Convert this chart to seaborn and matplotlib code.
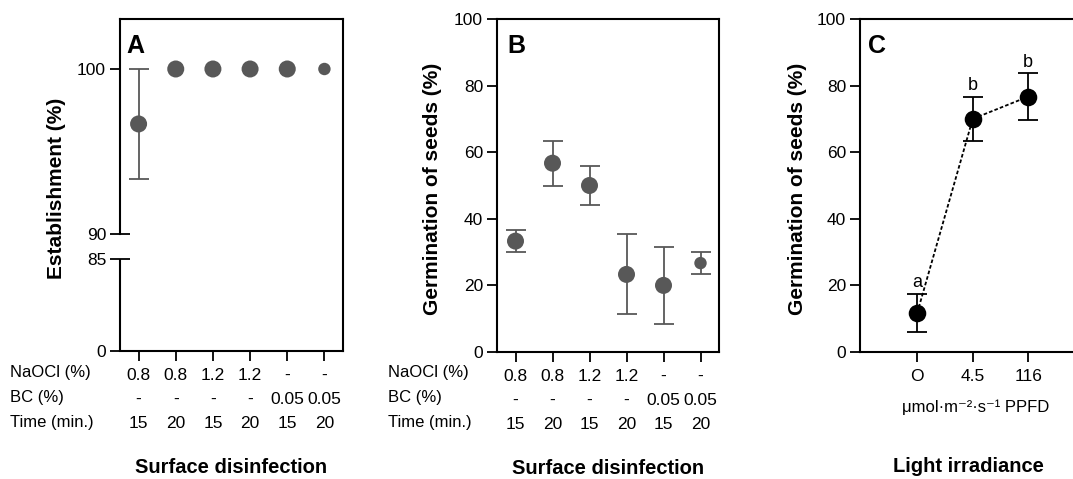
import numpy as np
import pandas as pd
import matplotlib
matplotlib.use("Agg")
import matplotlib.pyplot as plt
import seaborn as sns

# ---------------- data ----------------
naocl = ["0.8", "0.8", "1.2", "1.2", "-", "-"]
bc = ["-", "-", "-", "-", "0.05", "0.05"]
time_min = ["15", "20", "15", "20", "15", "20"]
row_headers = ["NaOCl (%)", "BC (%)", "Time (min.)"]

est_mean = [96.67, 100, 100, 100, 100, 100]
est_err = [3.33, 0, 0, 0, 0, 0]

germ_mean = [33.3, 56.7, 50.0, 23.3, 20.0, 26.7]
germ_err = [3.3, 6.7, 5.8, 12.0, 11.5, 3.3]

light_labels = ["O", "4.5", "116"]
light_mean = [11.7, 70.0, 76.7]
light_err = [5.8, 6.6, 7.0]
light_letters = ["a", "b", "b"]

# ---------------- style ----------------
sns.set_theme(style="ticks")
plt.rcParams["font.family"] = ["Liberation Sans", "DejaVu Sans"]
plt.rcParams["text.color"] = "black"
plt.rcParams["axes.labelcolor"] = "black"
GRAY = "#585858"
TICK_FS = 12.5
LAB_FS = 15
LSP = 1.78

W, H = 1073, 479
fig = plt.figure(figsize=(W / 100, H / 100), dpi=100)


def box(l, t, r, b):
    return [l / W, 1 - b / H, (r - l) / W, (b - t) / H]


axA = fig.add_axes(box(120, 19, 343, 351))
axB = fig.add_axes(box(497, 19, 719, 352))
axC = fig.add_axes(box(860, 19, 1076, 352))

for ax in (axA, axB, axC):
    for sp in ax.spines.values():
        sp.set_linewidth(1.5)
        sp.set_color("black")
    ax.tick_params(axis="both", which="major", direction="out", length=7,
                   width=1.3, color="black", labelsize=TICK_FS,
                   labelcolor="black", pad=3)
    ax.tick_params(axis="x", which="major", pad=5)

table_labels = [f"{a}\n{b}\n{c}" for a, b, c in zip(naocl, bc, time_min)]
sizes_AB = [150, 150, 150, 150, 150, 80]


def treatment_panel(ax, means, errs):
    x = np.arange(len(means))
    df = pd.DataFrame({"x": x, "y": means, "e": errs})
    with_err = df[df["e"] > 0]
    ax.errorbar(with_err["x"], with_err["y"], yerr=with_err["e"], fmt="none",
                ecolor=GRAY, elinewidth=1.3, capsize=7, capthick=1.3, zorder=2)
    sns.scatterplot(data=df, x="x", y="y", ax=ax, color=GRAY, s=sizes_AB,
                    linewidth=0, zorder=3, legend=False)
    ax.set_xlim(-0.5, len(means) - 0.5)
    ax.set_xticks(x)
    ax.set_xticklabels(table_labels)
    for t in ax.get_xticklabels():
        t.set_linespacing(LSP)
    ax.set_xlabel("Surface disinfection", fontsize=14.5, fontweight="bold",
                  labelpad=19)


# ---------------- panel A ----------------
treatment_panel(axA, est_mean, est_err)
d_pts = [0, 85, 90, 103.03]
p_pts = [0, 92, 117, 332]
axA.set_yscale("function", functions=(lambda y: np.interp(y, d_pts, p_pts),
                                      lambda p: np.interp(p, p_pts, d_pts)))
axA.set_ylim(0, 103.03)
axA.set_yticks([0, 100])
axA.set_yticklabels(["0", "100"])
axA.set_yticks([85, 90], minor=True)
axA.set_yticklabels(["85", "90"], minor=True)
axA.tick_params(axis="y", which="minor", direction="inout", length=15,
                width=1.3, color="black", labelsize=TICK_FS, labelcolor="black",
                pad=2)
axA.spines["left"].set_bounds(90, 103.03)
axA.plot([0, 0], [0, 85], transform=axA.get_yaxis_transform(), color="black",
         lw=1.5, clip_on=False, solid_capstyle="butt", zorder=5)
axA.set_ylim(0, 103.03)
axA.set_ylabel("Establishment (%)", fontsize=LAB_FS, fontweight="bold")
axA.yaxis.set_label_coords(-0.24, 0.49)

# ---------------- panel B ----------------
treatment_panel(axB, germ_mean, germ_err)
axB.set_ylim(0, 100)
axB.set_yticks([0, 20, 40, 60, 80, 100])
axB.set_ylabel("Germination of seeds (%)", fontsize=LAB_FS, fontweight="bold")
axB.yaxis.set_label_coords(-0.25, 0.49)

# row headers of the treatment table
for xpix in (10, 388):
    fig.text(xpix / W, 1 - 365 / H, "\n".join(row_headers), ha="left",
             va="top", fontsize=12, linespacing=LSP * TICK_FS / 12)

# ---------------- panel C ----------------
xc = np.arange(len(light_mean))
dfC = pd.DataFrame({"x": xc, "y": light_mean})
sns.lineplot(data=dfC, x="x", y="y", ax=axC, color="black", lw=1.3,
             linestyle=(0, (2, 1.2)), zorder=2)
axC.errorbar(xc, light_mean, yerr=light_err, fmt="none", ecolor="black",
             elinewidth=1.3, capsize=7, capthick=1.3, zorder=2)
sns.scatterplot(data=dfC, x="x", y="y", ax=axC, color="black", s=160,
                linewidth=0, zorder=3, legend=False)
for xi, m, e, let in zip(xc, light_mean, light_err, light_letters):
    axC.annotate(let, (xi, m + e), xytext=(0, 2), textcoords="offset points",
                 ha="center", va="bottom", fontsize=13)
axC.set_xlim(-1.03, 2.86)
axC.set_ylim(0, 100)
axC.set_yticks([0, 20, 40, 60, 80, 100])
axC.set_xticks(xc)
axC.set_xticklabels(light_labels)
axC.set_ylabel("Germination of seeds (%)", fontsize=LAB_FS, fontweight="bold")
axC.yaxis.set_label_coords(-0.245, 0.49)
axC.set_xlabel("Light irradiance", fontsize=14.5, fontweight="bold", labelpad=53)
axC.text(1.05, -0.165, "μmol·m⁻²·s⁻¹ PPFD", transform=axC.get_xaxis_transform(),
         ha="center", va="center", fontsize=12)

# panel letters
for ax, lab, xf in ((axA, "A", 0.03), (axB, "B", 0.045), (axC, "C", 0.037)):
    ax.text(xf, 0.955, lab, transform=ax.transAxes, ha="left", va="top",
            fontsize=18, fontweight="bold")

fig.savefig("out.png", dpi=100)
